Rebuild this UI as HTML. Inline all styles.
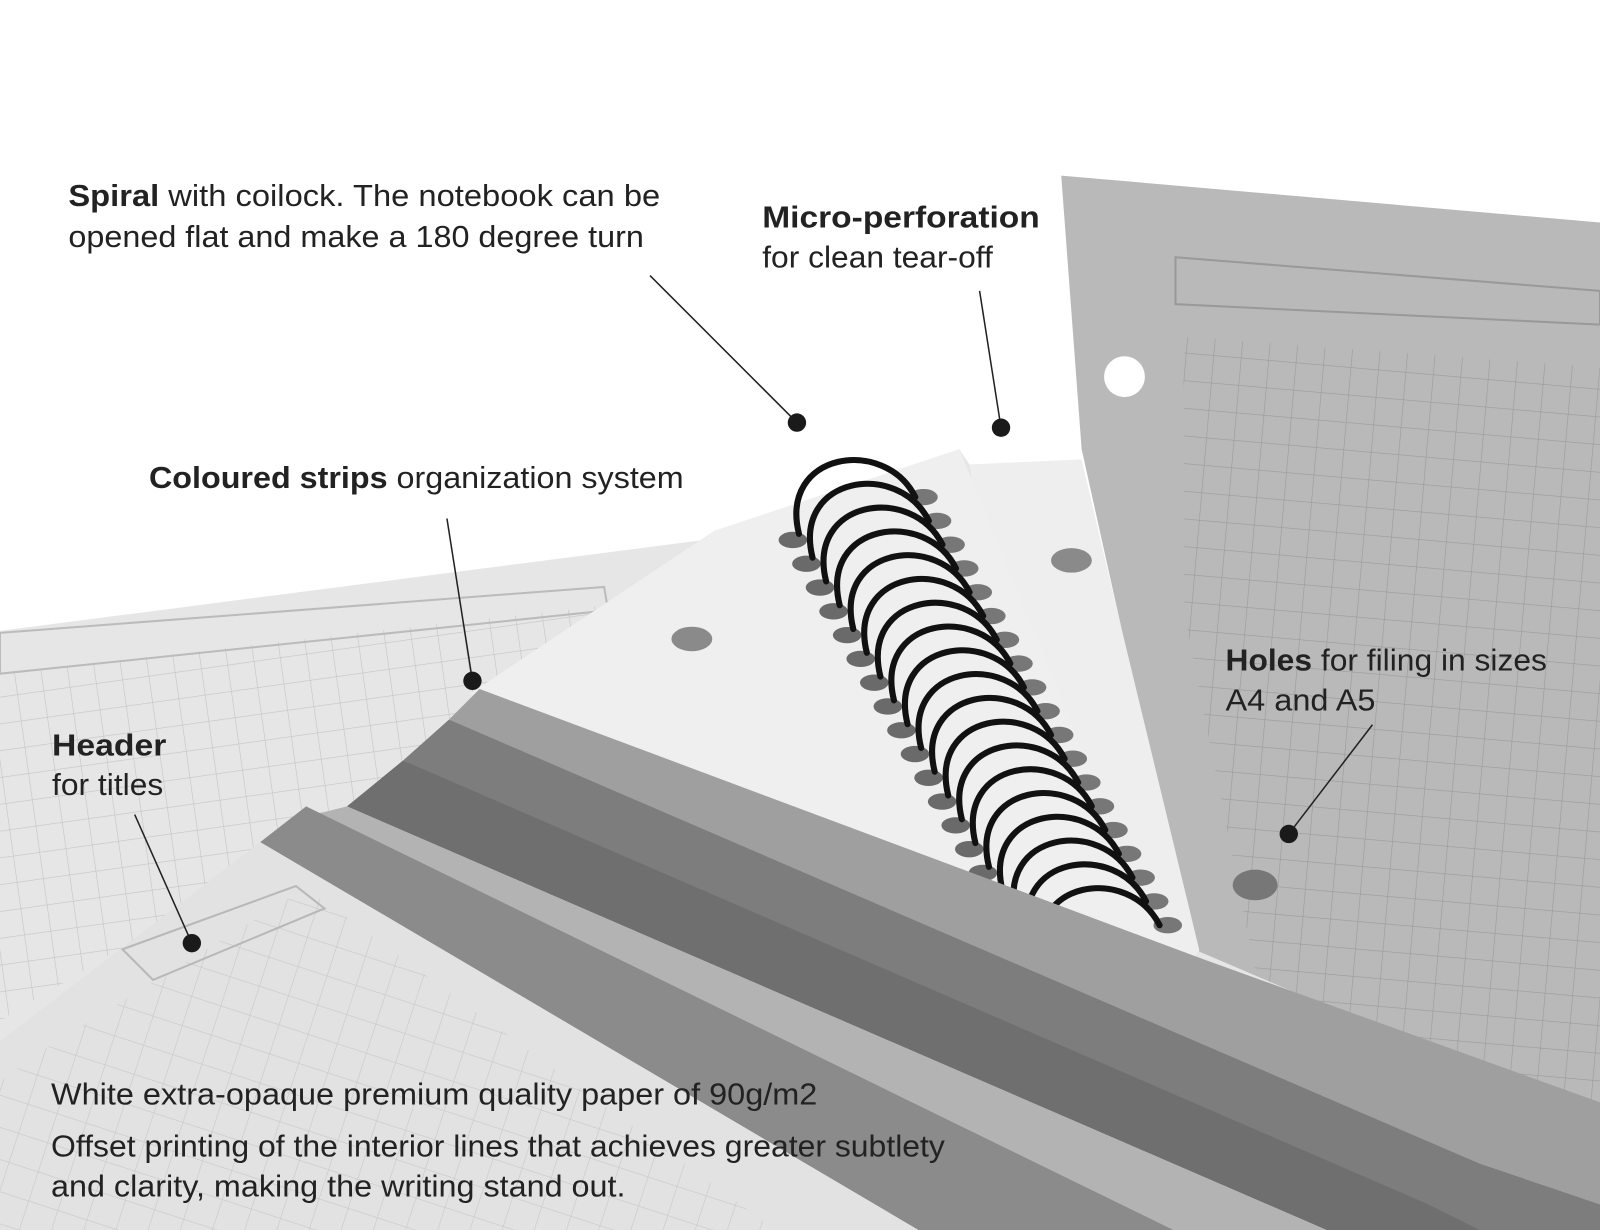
<!DOCTYPE html>
<html><head><meta charset="utf-8"><style>
html,body{margin:0;padding:0;background:#fff;}
svg{display:block;}
text{font-family:"Liberation Sans",Arial,sans-serif;fill:#222;}
</style></head><body>
<svg width="1600" height="1230" viewBox="0 0 1568 1205" preserveAspectRatio="none" xmlns="http://www.w3.org/2000/svg" xmlns:xlink="http://www.w3.org/1999/xlink">
<defs>
<pattern id="g1" width="26" height="26" patternUnits="userSpaceOnUse" patternTransform="rotate(-8)">
<path d="M0 0H26M0 0V26" stroke="#c4c4c4" stroke-width="1.2" fill="none"/></pattern>
<pattern id="g2" width="27" height="27" patternUnits="userSpaceOnUse" patternTransform="rotate(5)">
<path d="M0 0H27M0 0V27" stroke="#9a9a9a" stroke-width="1.2" fill="none"/></pattern>
<pattern id="g3" width="30" height="30" patternUnits="userSpaceOnUse" patternTransform="rotate(18)">
<path d="M0 0H30M0 0V30" stroke="#c8c8c8" stroke-width="1.2" fill="none"/></pattern>
<g id="loop">
<ellipse cx="-6" cy="6" rx="14" ry="8" fill="#6a6a6a"/>
<ellipse cx="122" cy="-36" rx="14" ry="8" fill="#777"/>
<path d="M0 0 C-20 -80 84 -96 114 -36" fill="none" stroke="#111" stroke-width="6" stroke-linecap="round"/>
</g>
</defs>
<rect width="1568" height="1205" fill="#fff"/>
<!-- right grey page -->
<polygon points="1040,172 1568,218 1568,1205 1180,1205 1175,930 1100,620 1060,440" fill="#b9b9b9"/>
<polygon points="1160,330 1568,360 1568,1100 1240,1000 1160,600" fill="url(#g2)"/>
<polygon points="1152,252 1568,285 1568,318 1152,298" fill="none" stroke="#999" stroke-width="2"/>
<circle cx="1102" cy="369" r="20" fill="#fff"/>
<ellipse cx="1230" cy="867" rx="22" ry="15" fill="#777"/>
<!-- left background page -->
<polygon points="0,618 760,520 940,440 960,470 1170,930 1568,1100 1568,1205 0,1205" fill="#e6e6e6"/>
<polygon points="0,660 620,590 760,800 300,820 0,1000" fill="url(#g1)"/>
<polygon points="0,620 592,575 596,598 0,660" fill="none" stroke="#bbb" stroke-width="2"/>
<!-- middle page -->
<polygon points="950,455 1060,450 1100,620 1175,930 1160,960 1020,900" fill="#eeeeee"/>
<ellipse cx="1050" cy="549" rx="20" ry="12" fill="#8a8a8a"/>
<!-- page under spiral -->
<polygon points="700,520 940,440 1140,930 760,800 460,680" fill="#efefef"/>
<ellipse cx="678" cy="626" rx="20" ry="12" fill="#8a8a8a"/>
<!-- spiral -->
<g>
<use xlink:href="#loop" transform="translate(783,523)"/>
<use xlink:href="#loop" transform="translate(796.3,546.3)"/>
<use xlink:href="#loop" transform="translate(809.6,569.6)"/>
<use xlink:href="#loop" transform="translate(822.9,592.9)"/>
<use xlink:href="#loop" transform="translate(836.2,616.2)"/>
<use xlink:href="#loop" transform="translate(849.5,639.5)"/>
<use xlink:href="#loop" transform="translate(862.8,662.8)"/>
<use xlink:href="#loop" transform="translate(876.1,686.1)"/>
<use xlink:href="#loop" transform="translate(889.4,709.4)"/>
<use xlink:href="#loop" transform="translate(902.7,732.7)"/>
<use xlink:href="#loop" transform="translate(916,756)"/>
<use xlink:href="#loop" transform="translate(929.3,779.3)"/>
<use xlink:href="#loop" transform="translate(942.6,802.6)"/>
<use xlink:href="#loop" transform="translate(955.9,825.9)"/>
<use xlink:href="#loop" transform="translate(969.2,849.2)"/>
<use xlink:href="#loop" transform="translate(982.5,872.5)"/>
<use xlink:href="#loop" transform="translate(995.8,895.8)"/>
<use xlink:href="#loop" transform="translate(1009.1,919.1)"/>
<use xlink:href="#loop" transform="translate(1022.4,942.4)"/>
</g>
<!-- strips -->
<polygon points="470,675 1180,940 1568,1080 1568,1205 1450,1205 440,705" fill="#9f9f9f"/>
<polygon points="440,705 1450,1140 1568,1180 1568,1205 1400,1205 395,745" fill="#7d7d7d"/>
<polygon points="395,745 1400,1180 1450,1205 1300,1205 340,790" fill="#6f6f6f"/>
<polygon points="340,790 1300,1205 1150,1205 300,800" fill="#b3b3b3"/>
<polygon points="300,790 1150,1205 900,1205 255,825" fill="#8b8b8b"/>
<!-- front page -->
<polygon points="0,1020 255,825 900,1205 0,1205" fill="#e2e2e2"/>
<polygon points="40,1030 300,870 760,1205 0,1205 0,1060" fill="url(#g3)"/>
<polygon points="120,930 290,868 318,890 150,960" fill="none" stroke="#b8b8b8" stroke-width="2"/>
<!-- callouts -->
<g stroke="#222" stroke-width="1.5">
<line x1="637" y1="270" x2="781" y2="414"/>
<line x1="960" y1="285" x2="981" y2="419"/>
<line x1="438" y1="508" x2="463" y2="667"/>
<line x1="132" y1="798" x2="188" y2="924"/>
<line x1="1345" y1="710" x2="1263" y2="817"/>
</g>
<g fill="#1a1a1a">
<circle cx="781" cy="414" r="9"/><circle cx="981" cy="419" r="9"/>
<circle cx="463" cy="667" r="9"/><circle cx="188" cy="924" r="9"/>
<circle cx="1263" cy="817" r="9"/>
</g>
<g font-size="30">
<text x="67" y="202" textLength="580" lengthAdjust="spacingAndGlyphs"><tspan font-weight="bold">Spiral</tspan> with coilock. The notebook can be</text>
<text x="67" y="242" textLength="564" lengthAdjust="spacingAndGlyphs">opened flat and make a 180 degree turn</text>
<text x="747" y="223" font-weight="bold" textLength="272" lengthAdjust="spacingAndGlyphs">Micro-perforation</text>
<text x="747" y="262" textLength="226" lengthAdjust="spacingAndGlyphs">for clean tear-off</text>
<text x="146" y="478" textLength="524" lengthAdjust="spacingAndGlyphs"><tspan font-weight="bold">Coloured strips</tspan> organization system</text>
<text x="51" y="740" font-weight="bold" textLength="112" lengthAdjust="spacingAndGlyphs">Header</text>
<text x="51" y="779" textLength="109" lengthAdjust="spacingAndGlyphs">for titles</text>
<text x="1201" y="657" textLength="315" lengthAdjust="spacingAndGlyphs"><tspan font-weight="bold">Holes</tspan> for filing in sizes</text>
<text x="1201" y="696" textLength="147" lengthAdjust="spacingAndGlyphs">A4 and A5</text>
<text x="50" y="1082" textLength="751" lengthAdjust="spacingAndGlyphs">White extra-opaque premium quality paper of 90g/m2</text>
<text x="50" y="1133" textLength="876" lengthAdjust="spacingAndGlyphs">Offset printing of the interior lines that achieves greater subtlety</text>
<text x="50" y="1172" textLength="563" lengthAdjust="spacingAndGlyphs">and clarity, making the writing stand out.</text>
</g>
</svg>
</body></html>
